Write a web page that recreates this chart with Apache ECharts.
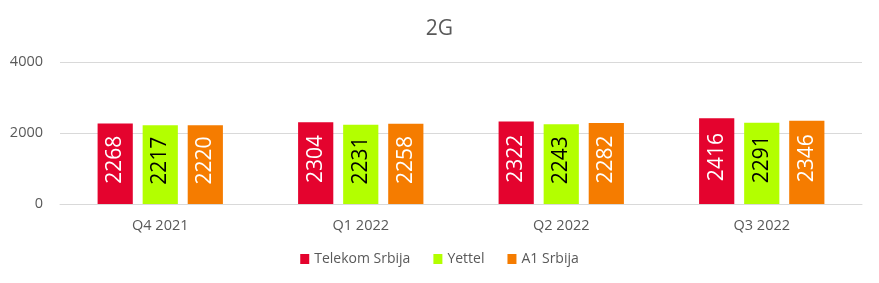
<!DOCTYPE html>
<html><head><meta charset="utf-8">
<script src="https://cdn.jsdelivr.net/npm/echarts@6/dist/echarts.min.js"></script>
<style>html,body{margin:0;padding:0;background:#fff}#c{width:879px;height:283px}</style>
</head><body><div id="c"></div>
<script>
var categories = ["Q4 2021", "Q1 2022", "Q2 2022", "Q3 2022"];
var seriesNames = ["Telekom Srbija", "Yettel", "A1 Srbija"];
var telekom = [2268, 2304, 2322, 2416];
var yettel = [2217, 2231, 2243, 2291];
var a1 = [2220, 2258, 2282, 2346];
var yTicks = [0, 2000, 4000];

var colors = ["#E4032E", "#B3FF00", "#F57C00"];
var labelColors = ["#ffffff", "#000000", "#ffffff"];
var values = [telekom, yettel, a1];
var font = "'Open Sans', 'Liberation Sans', sans-serif";

var chart = echarts.init(document.getElementById('c'));
chart.setOption({
  animation: false,
  title: { text: "2G", left: 'center', top: 14, textStyle: { fontFamily: font, fontSize: 21, fontWeight: 'normal', color: '#595959' } },
  legend: { bottom: 12, left: 'center', itemWidth: 9, itemHeight: 10, itemGap: 23, icon: 'rect',
    textStyle: { fontFamily: font, fontSize: 14, color: '#595959', padding: [0, 0, 0, 0] }, data: seriesNames },
  grid: { left: 60, right: 17, top: 62, bottom: 79 },
  xAxis: { type: 'category', data: categories,
    axisLine: { lineStyle: { color: '#d9d9d9' } }, axisTick: { show: false },
    axisLabel: { fontFamily: font, fontSize: 14.5, color: '#595959', margin: 14 } },
  yAxis: { type: 'value', min: yTicks[0], max: yTicks[yTicks.length - 1], interval: 2000,
    axisLine: { show: false }, axisTick: { show: false },
    splitLine: { lineStyle: { color: '#d9d9d9' } },
    axisLabel: { fontFamily: font, fontSize: 14.5, color: '#595959', margin: 17, formatter: function (v) { return String(v); } } },
  series: seriesNames.map(function (n, i) {
    return {
      name: n, type: 'bar', data: values[i], barGap: '28%', barCategoryGap: '37.5%',
      itemStyle: { color: colors[i] },
      label: { show: true, position: 'inside', rotate: 90, offset: [4, 0], fontFamily: font, fontSize: 21, color: labelColors[i] }
    };
  })
});
</script></body></html>
